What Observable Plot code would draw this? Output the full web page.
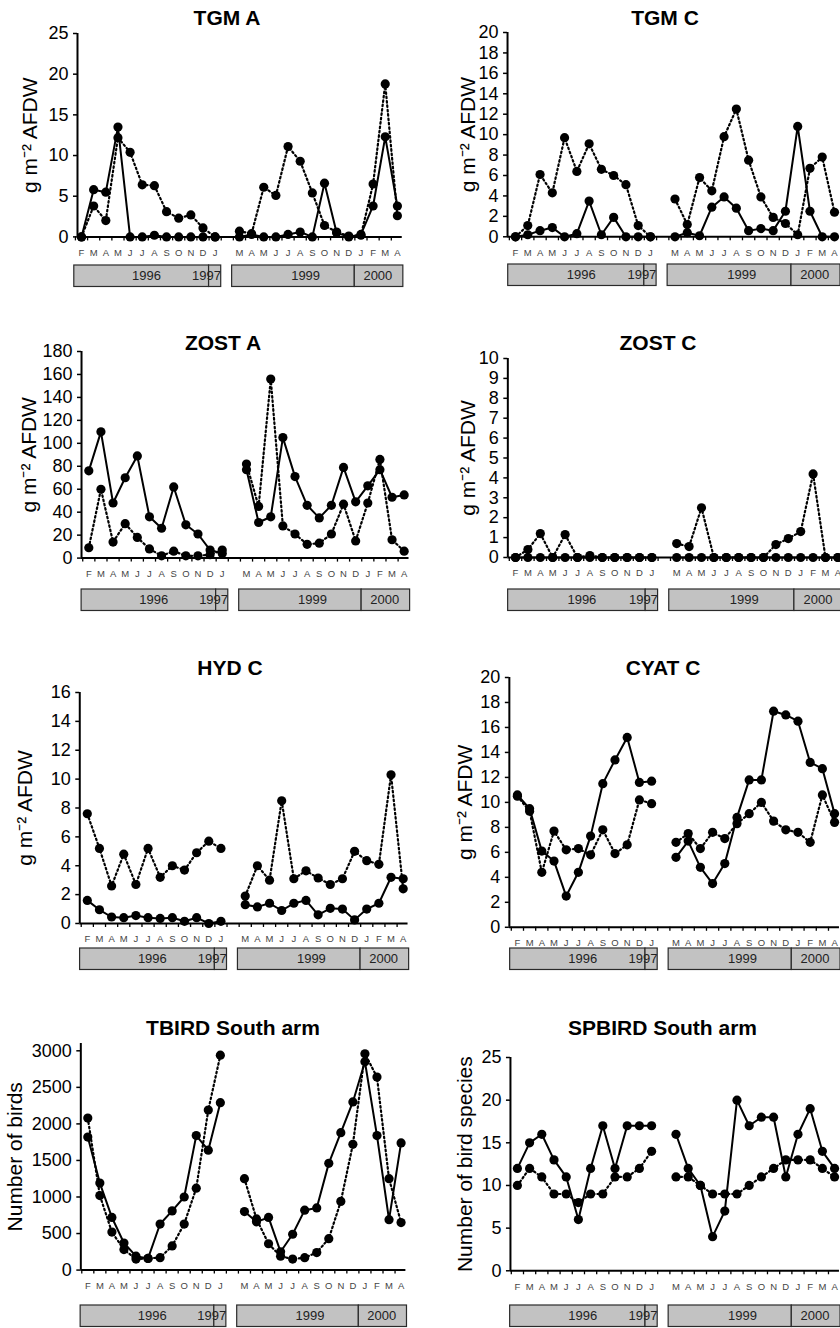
<!DOCTYPE html>
<html><head><meta charset="utf-8">
<script src="https://cdn.jsdelivr.net/npm/d3@7"></script>
<script src="https://cdn.jsdelivr.net/npm/@observablehq/plot@0.6"></script>
<style>
html,body{margin:0;padding:0;background:#fff;}
#page{position:relative;width:840px;height:1328px;overflow:hidden;background:#fff;font-family:"Liberation Sans",Arial,Helvetica,sans-serif;}
.title{position:absolute;transform:translate(-50%,-50%);font-weight:bold;font-size:21px;white-space:nowrap;color:#000;}
.abs{position:absolute;}
</style></head><body><div id="page"></div>
<script>
// ---------- categories ----------
const months1996 = ["F","M","A","M","J","J","A","S","O","N","D","J"];
const years1996  = [1996,1996,1996,1996,1996,1996,1996,1996,1996,1996,1996,1997];
const months1999 = ["M","A","M","J","J","A","S","O","N","D","J","F","M","A"];
const years1999  = [1999,1999,1999,1999,1999,1999,1999,1999,1999,1999,2000,2000,2000,2000];

// ---------- series values (solid line / dotted line) ----------
const tgmA_solid96  = [0, 5.8, 5.5, 13.5, 0, 0, 0.2, 0, 0, 0, 0, 0];
const tgmA_dotted96 = [0, 3.8, 2.0, 12.2, 10.4, 6.4, 6.3, 3.1, 2.3, 2.7, 1.1, 0];
const tgmA_solid99  = [0, 0.3, 0, 0, 0.3, 0.6, 0, 6.6, 0.5, 0, 0.3, 3.8, 12.3, 3.8];
const tgmA_dotted99 = [0.7, 0.4, 6.1, 5.1, 11.1, 9.3, 5.4, 1.4, 0.6, 0.1, 0.2, 6.5, 18.8, 2.6];

const tgmC_solid96  = [0, 0.2, 0.6, 0.9, 0, 0.3, 3.5, 0.2, 1.9, 0, 0, 0];
const tgmC_dotted96 = [0, 1.1, 6.1, 4.3, 9.7, 6.4, 9.1, 6.6, 6.0, 5.1, 1.1, 0];
const tgmC_solid99  = [0, 0.4, 0.1, 2.9, 3.9, 2.8, 0.6, 0.8, 0.6, 2.5, 10.8, 2.5, 0, 0];
const tgmC_dotted99 = [3.7, 1.2, 5.8, 4.5, 9.8, 12.5, 7.5, 3.9, 1.9, 1.3, 0.2, 6.7, 7.8, 2.4];

const zostA_solid96  = [76, 110, 48, 70, 89, 36, 26, 62, 29, 21, 7, 4];
const zostA_dotted96 = [9, 60, 14, 30, 18, 8, 2, 6, 2, 2, 3, 7];
const zostA_solid99  = [77, 31, 36, 105, 71, 46, 35, 46, 79, 49, 63, 77, 53, 55];
const zostA_dotted99 = [82, 45, 156, 28, 21, 12, 13, 21, 47, 15, 48, 86, 16, 6];

const zostC_solid96  = [0, 0, 0, 0, 0, 0, 0, 0, 0, 0, 0, 0];
const zostC_dotted96 = [0, 0.4, 1.2, 0, 1.15, 0, 0.1, 0, 0, 0, 0, 0];
const zostC_solid99  = [0, 0, 0, 0, 0, 0, 0, 0, 0, 0, 0, 0, 0, 0];
const zostC_dotted99 = [0.7, 0.55, 2.5, 0, 0, 0, 0, 0, 0.65, 0.95, 1.3, 4.2, 0, 0];

const hydC_solid96  = [1.6, 0.95, 0.45, 0.4, 0.55, 0.4, 0.35, 0.4, 0.15, 0.4, 0, 0.15];
const hydC_dotted96 = [7.6, 5.2, 2.6, 4.8, 2.7, 5.2, 3.2, 4.0, 3.7, 4.9, 5.7, 5.2];
const hydC_solid99  = [1.3, 1.15, 1.4, 0.9, 1.4, 1.6, 0.6, 1.05, 1.0, 0.25, 1.0, 1.4, 3.2, 3.1];
const hydC_dotted99 = [1.9, 4.0, 3.0, 8.5, 3.1, 3.65, 3.15, 2.7, 3.1, 5.0, 4.35, 4.1, 10.3, 2.4];

const cyatC_solid96  = [10.6, 9.5, 6.1, 5.3, 2.5, 4.4, 7.3, 11.5, 13.4, 15.2, 11.6, 11.7];
const cyatC_dotted96 = [10.5, 9.3, 4.4, 7.7, 6.2, 6.3, 5.8, 7.8, 5.9, 6.6, 10.2, 9.9];
const cyatC_solid99  = [5.6, 6.9, 4.8, 3.5, 5.1, 8.8, 11.8, 11.8, 17.3, 17.0, 16.5, 13.2, 12.7, 9.1];
const cyatC_dotted99 = [6.8, 7.5, 6.3, 7.6, 7.1, 8.3, 9.1, 10.0, 8.5, 7.8, 7.6, 6.8, 10.6, 8.4];

const tbird_solid96  = [1820, 1190, 720, 370, 190, 160, 630, 810, 1000, 1840, 1640, 2290];
const tbird_dotted96 = [2080, 1020, 520, 280, 150, 160, 170, 330, 630, 1120, 2190, 2940];
const tbird_solid99  = [800, 660, 720, 250, 490, 820, 850, 1460, 1880, 2300, 2850, 1840, 690, 1740];
const tbird_dotted99 = [1250, 700, 360, 190, 150, 170, 240, 430, 940, 1720, 2960, 2640, 1250, 650];

const spbird_solid96  = [12, 15, 16, 13, 11, 6, 12, 17, 12, 17, 17, 17];
const spbird_dotted96 = [10, 12, 11, 9, 9, 8, 9, 9, 11, 11, 12, 14];
const spbird_solid99  = [16, 12, 10, 4, 7, 20, 17, 18, 18, 11, 16, 19, 14, 12];
const spbird_dotted99 = [11, 11, 10, 9, 9, 9, 10, 11, 12, 13, 13, 13, 12, 11];

// ---------- tick labels / texts ----------
const titles = ["TGM A","TGM C","ZOST A","ZOST C","HYD C","CYAT C","TBIRD South arm","SPBIRD South arm"];
const yLabels = ["g m⁻² AFDW","g m⁻² AFDW","g m⁻² AFDW","g m⁻² AFDW","g m⁻² AFDW","g m⁻² AFDW","Number of birds","Number of bird species"];
const yTickValues = [
  [0,5,10,15,20,25],
  [0,2,4,6,8,10,12,14,16,18,20],
  [0,20,40,60,80,100,120,140,160,180],
  [0,1,2,3,4,5,6,7,8,9,10],
  [0,2,4,6,8,10,12,14,16],
  [0,2,4,6,8,10,12,14,16,18,20],
  [0,500,1000,1500,2000,2500,3000],
  [0,5,10,15,20,25]
];
const seriesSets = [
  [tgmA_solid96, tgmA_dotted96, tgmA_solid99, tgmA_dotted99],
  [tgmC_solid96, tgmC_dotted96, tgmC_solid99, tgmC_dotted99],
  [zostA_solid96, zostA_dotted96, zostA_solid99, zostA_dotted99],
  [zostC_solid96, zostC_dotted96, zostC_solid99, zostC_dotted99],
  [hydC_solid96, hydC_dotted96, hydC_solid99, hydC_dotted99],
  [cyatC_solid96, cyatC_dotted96, cyatC_solid99, cyatC_dotted99],
  [tbird_solid96, tbird_dotted96, tbird_solid99, tbird_dotted99],
  [spbird_solid96, spbird_dotted96, spbird_solid99, spbird_dotted99]
];

// ---------- layout (page pixels) ----------
const layout = [
  {col:0, x0:81,    s:12.15, dmin:-0.33, yMax:25,   yTop:33.3,   y0:236.7,  tx:227,   ty:18,    yearTop:265,    capTop:22},
  {col:1, x0:515,   s:12.27, dmin:-0.65, yMax:20,   yTop:31.7,   y0:236,    tx:665,   ty:17.5,  yearTop:264,    capTop:460},
  {col:0, x0:88.3,  s:12.13, dmin:-0.6,  yMax:180,  yTop:350.7,  y0:557.3,  tx:223,   ty:343,   yearTop:589,    capTop:21},
  {col:1, x0:515,   s:12.4,  dmin:-0.62, yMax:10,   yTop:358.3,  y0:557.3,  tx:658,   ty:342.7, yearTop:589,    capTop:460},
  {col:0, x0:86.8,  s:12.15, dmin:-0.62, yMax:16,   yTop:692,    y0:923,    tx:230,   ty:668,   yearTop:948,    capTop:17},
  {col:1, x0:516.9, s:12.2,  dmin:-0.66, yMax:20,   yTop:676.7,  y0:926.5,  tx:663,   ty:668,   yearTop:948,    capTop:457},
  {col:0, x0:87.3,  s:12.05, dmin:-0.58, yMax:3100, yTop:1042.7, y0:1269.3, tx:233,   ty:1028,  yearTop:1304.5, capTop:7},
  {col:1, x0:516.9, s:12.2,  dmin:-0.57, yMax:25,   yTop:1056.7, y0:1270,   tx:662.5, ty:1028,  yearTop:1304.5, capTop:457}
];
const DMAX = 26.4, MT = 12, MB = 30, YEAR_H = 21.5;
const yearLabelShift = {"1996": 0.4, "1999": 1.0, "2000": -0.1};

// ---------- slots ----------
const slots = [];
months1996.forEach((m, i) => slots.push({slot: i, month: m, year: years1996[i], block: 0}));
months1999.forEach((m, i) => slots.push({slot: months1996.length + 1 + i, month: m, year: years1999[i], block: 1}));
const monthBySlot = new Map(slots.map(d => [d.slot, d.month]));
const slotIdx = slots.map(d => d.slot);
const nSlots = months1996.length + 1 + months1999.length;
const bounds = d3.range(nSlots).map(i => i - 0.5);
const slot96 = slots.filter(d => d.block === 0).map(d => d.slot);
const slot99 = slots.filter(d => d.block === 1).map(d => d.slot);

const spans = d3.groups(slots, d => d.year).map(([year, arr]) => {
  const first = arr[0].slot, last = arr[arr.length - 1].slot;
  const blockStart = slots.find(d => d.block === arr[0].block).slot === first;
  const x1 = first - (blockStart ? 0.6 : 0.5), x2 = last + 0.5;
  const narrow = last - first < 1;
  return {label: String(year), x1, x2, narrow,
          lx: narrow ? x2 - 0.02 : (x1 + x2) / 2 + (yearLabelShift[year] ?? 0)};
});

const page = document.getElementById("page");
const FONT = '"Liberation Sans", Arial, Helvetica, sans-serif';

titles.forEach((title, p) => {
  const L = layout[p];
  const [s96, d96, s99, d99] = seriesSets[p];
  const rows = [];
  const add = (vals, idx, style, seg) => vals.forEach((v, i) => rows.push({x: idx[i], y: v, style, seg: style + seg}));
  add(d96, slot96, "dotted", 0); add(d99, slot99, "dotted", 1);
  add(s96, slot96, "solid", 0);  add(s99, slot99, "solid", 1);

  const svgLeft = L.col * 420;
  const axisX = L.x0 + L.s * L.dmin;
  const marginLeft = axisX - svgLeft;
  const innerW = L.s * (DMAX - L.dmin);
  const marginRight = 12;
  const width = marginLeft + innerW + marginRight;
  const innerH = L.y0 - L.yTop;
  const height = MT + innerH + MB;
  const labelOffset = axisX - L.capTop;

  const chart = Plot.plot({
    width, height, marginLeft, marginRight, marginTop: MT, marginBottom: MB,
    x: {domain: [L.dmin, DMAX], axis: null},
    y: {domain: [0, L.yMax], axis: null},
    style: {fontFamily: FONT, background: "transparent", overflow: "visible", color: "#000"},
    marks: [
      Plot.axisY({ticks: yTickValues[p], tickSize: 4, tickPadding: 5, fontSize: 18, strokeWidth: 1.5,
                  tickFormat: d => String(d), label: null}),
      Plot.axisX({ticks: bounds, tickSize: 4, strokeWidth: 1.3, tickFormat: () => "", label: null}),
      Plot.axisX({ticks: slotIdx, tickSize: 0, tickPadding: 12, fontSize: 9.5, fill: "#444",
                  tickFormat: i => monthBySlot.get(i) ?? "", label: null}),
      Plot.ruleY([0], {strokeWidth: 2}),
      Plot.ruleX([L.dmin], {strokeWidth: 2}),
      Plot.text([yLabels[p]], {frameAnchor: "left", textAnchor: "middle", rotate: -90, dx: -labelOffset,
                               lineAnchor: "top", fontSize: 21, fill: "#000"}),
      Plot.line(rows.filter(d => d.style === "dotted"), {x: "x", y: "y", z: "seg", stroke: "#000", strokeWidth: 2.2, strokeDasharray: "1.6,2.8"}),
      Plot.line(rows.filter(d => d.style === "solid"), {x: "x", y: "y", z: "seg", stroke: "#000", strokeWidth: 2}),
      Plot.dot(rows, {x: "x", y: "y", r: 4.6, fill: "#000"})
    ]
  });
  chart.classList.add("abs");
  chart.style.left = svgLeft + "px";
  chart.style.top = (L.yTop - MT) + "px";
  page.appendChild(chart);

  const yearBar = Plot.plot({
    width, height: YEAR_H + 2, marginLeft, marginRight, marginTop: 1, marginBottom: 1,
    x: {domain: [L.dmin, DMAX], axis: null},
    y: {domain: [0, 1], axis: null},
    style: {fontFamily: FONT, background: "transparent", overflow: "visible"},
    marks: [
      Plot.rect(spans, {x1: "x1", x2: "x2", y1: 0, y2: 1, fill: "#c2c2c2", stroke: "#2a2a2a", strokeWidth: 1.2}),
      Plot.text(spans.filter(d => !d.narrow), {x: "lx", y: 0.5, text: "label", fontSize: 13, fill: "#222"}),
      Plot.text(spans.filter(d => d.narrow), {x: "lx", y: 0.5, text: "label", textAnchor: "end", fontSize: 13, fill: "#222"})
    ]
  });
  yearBar.classList.add("abs");
  yearBar.style.left = svgLeft + "px";
  yearBar.style.top = (L.yearTop - 1) + "px";
  page.appendChild(yearBar);

  const t = document.createElement("div");
  t.className = "title";
  t.textContent = title;
  t.style.left = L.tx + "px";
  t.style.top = L.ty + "px";
  page.appendChild(t);
});
</script></body></html>
